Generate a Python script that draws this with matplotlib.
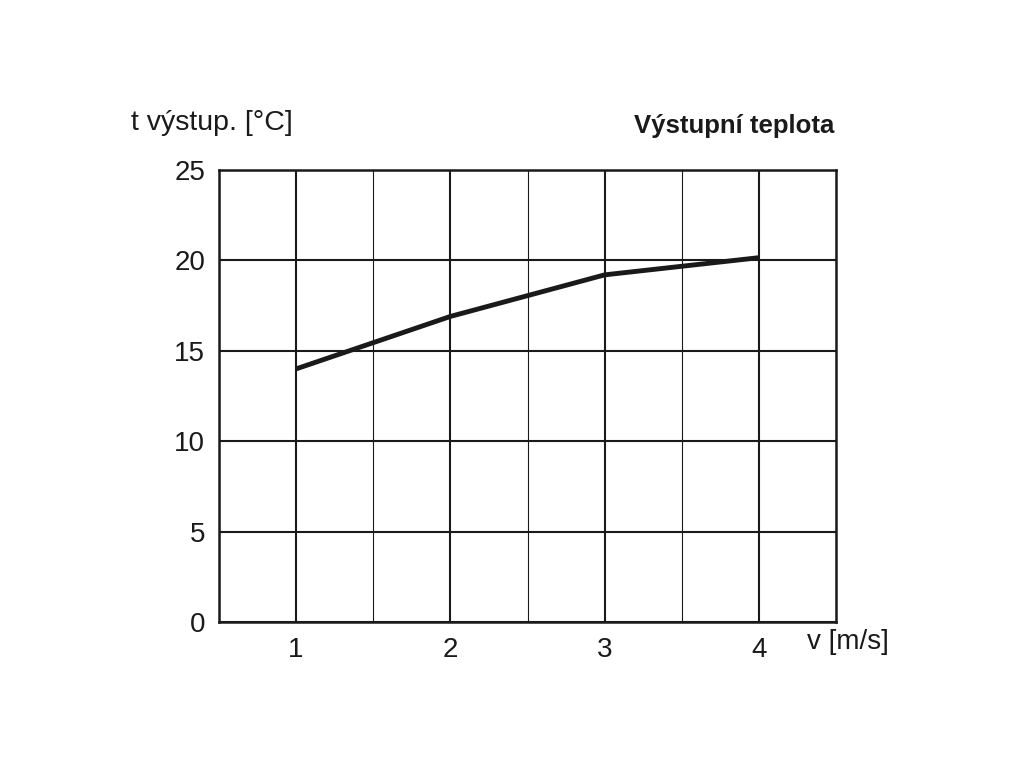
import matplotlib
matplotlib.use("Agg")
import matplotlib.pyplot as plt
from matplotlib.ticker import MultipleLocator

# Data
speed = [1, 2, 3, 4]
temp_out = [14.0, 16.9, 19.2, 20.15]
y_ticks = [0, 5, 10, 15, 20, 25]
x_ticks = [1, 2, 3, 4]

plt.rcParams['font.family'] = ['Liberation Sans', 'DejaVu Sans']
ink = '#1a1a1a'

fig = plt.figure(figsize=(10.24, 7.68), dpi=100)
ax = fig.add_axes([219/1024, 1-622/768, (836-219)/1024, (622-170)/768])

ax.set_xlim(0.5, 4.5)
ax.set_ylim(0, 25)
ax.set_xticks(x_ticks)
ax.set_yticks(y_ticks)
ax.xaxis.set_minor_locator(MultipleLocator(0.5))

ax.grid(True, which='major', color=ink, linewidth=1.5)
ax.grid(True, which='minor', axis='x', color=ink, linewidth=0.8)
ax.set_axisbelow(True)

for s in ax.spines.values():
    s.set_color(ink)
    s.set_linewidth(1.8)

ax.tick_params(axis='both', which='both', length=0, labelsize=20, colors=ink)
ax.tick_params(axis='x', pad=11)
ax.tick_params(axis='y', pad=10)

ax.plot(speed, temp_out, color=ink, linewidth=3.5, solid_capstyle='butt', zorder=5)

fig.text(131/1024, 1-123/768, 't výstup. [°C]', fontsize=20.5, color=ink,
         ha='left', va='center')
fig.text(834/1024, 1-126/768, 'Výstupní teplota', fontsize=18.5, fontweight='bold',
         color=ink, ha='right', va='center')
fig.text(807/1024, 1-642/768, 'v [m/s]', fontsize=20, color=ink,
         ha='left', va='center')

fig.savefig('out.png', dpi=100, facecolor='white')
